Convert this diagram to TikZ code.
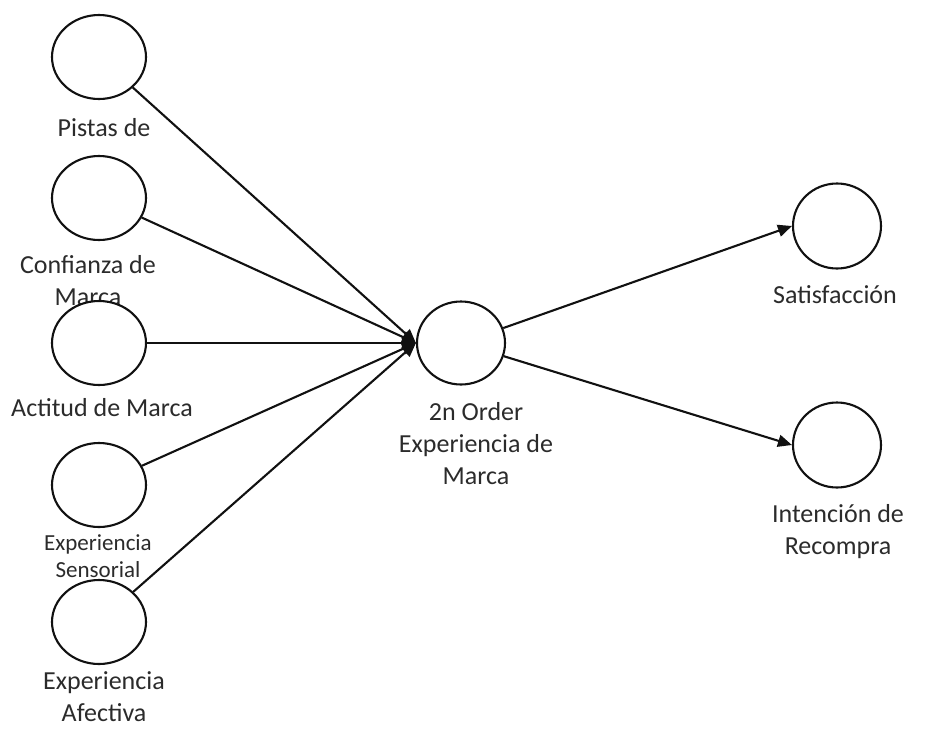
\documentclass[tikz,border=0pt]{standalone}
\usepackage{fontspec}
\setmainfont{Carlito}
\usepackage{tikz}
\usetikzlibrary{arrows.meta,shapes.geometric}
\definecolor{ink}{HTML}{111111}
\definecolor{labelgray}{HTML}{2B2B2B}
\tikzset{
  >={Triangle[length=14pt,width=12pt]},
  latent/.style={ellipse,draw=ink,fill=white,line width=2.1pt,minimum width=94pt,minimum height=84pt,inner sep=0pt},
  tag/.style={font=\fontsize{26}{32}\selectfont,text=labelgray,align=center,inner sep=0pt},
  smalltag/.style={font=\fontsize{23}{27}\selectfont,text=labelgray,align=center,inner sep=0pt},
  path/.style={->,line width=2.1pt,color=ink},
}

\begin{document}
\begin{tikzpicture}[x=1pt,y=-1pt]
  \useasboundingbox (0,0) rectangle (951,731);

  % labels first, so the circles sit on top of them
  \node[tag] (tcues) at (104,128) {Pistas de};
  \node[tag] (ttrust) at (88,281) {Confianza de\\Marca};
  \node[tag] (tatt) at (102,408) {Actitud de Marca};
  \node[smalltag] (tsens) at (98,556) {Experiencia\\Sensorial};
  \node[tag] (taff) at (104,697) {Experiencia\\Afectiva};
  \node[tag] (texp) at (476,444) {2n Order\\Experiencia de\\Marca};
  \node[tag] (tsat) at (835,295) {Satisfacción};
  \node[tag] (tint) at (838,532) {Intención de\\Recompra};

  % constructs
  \node[latent] (cues) at (99,57) {};
  \node[latent] (trust) at (99,198) {};
  \node[latent] (att) at (99,343) {};
  \node[latent] (sens) at (99,485) {};
  \node[latent] (aff) at (99,622) {};
  \node[latent,minimum width=88pt,minimum height=83pt] (exp) at (461,343) {};
  \node[latent,minimum width=88pt,minimum height=85pt] (sat) at (837,226) {};
  \node[latent,minimum width=88pt,minimum height=85pt] (int) at (837,445) {};

  \foreach \src in {cues,trust,att,sens,aff}
    \draw[path] (\src) -- (exp.west);
  \draw[path] (exp) -- (sat.west);
  \draw[path] (exp) -- (int.west);
\end{tikzpicture}
\end{document}
